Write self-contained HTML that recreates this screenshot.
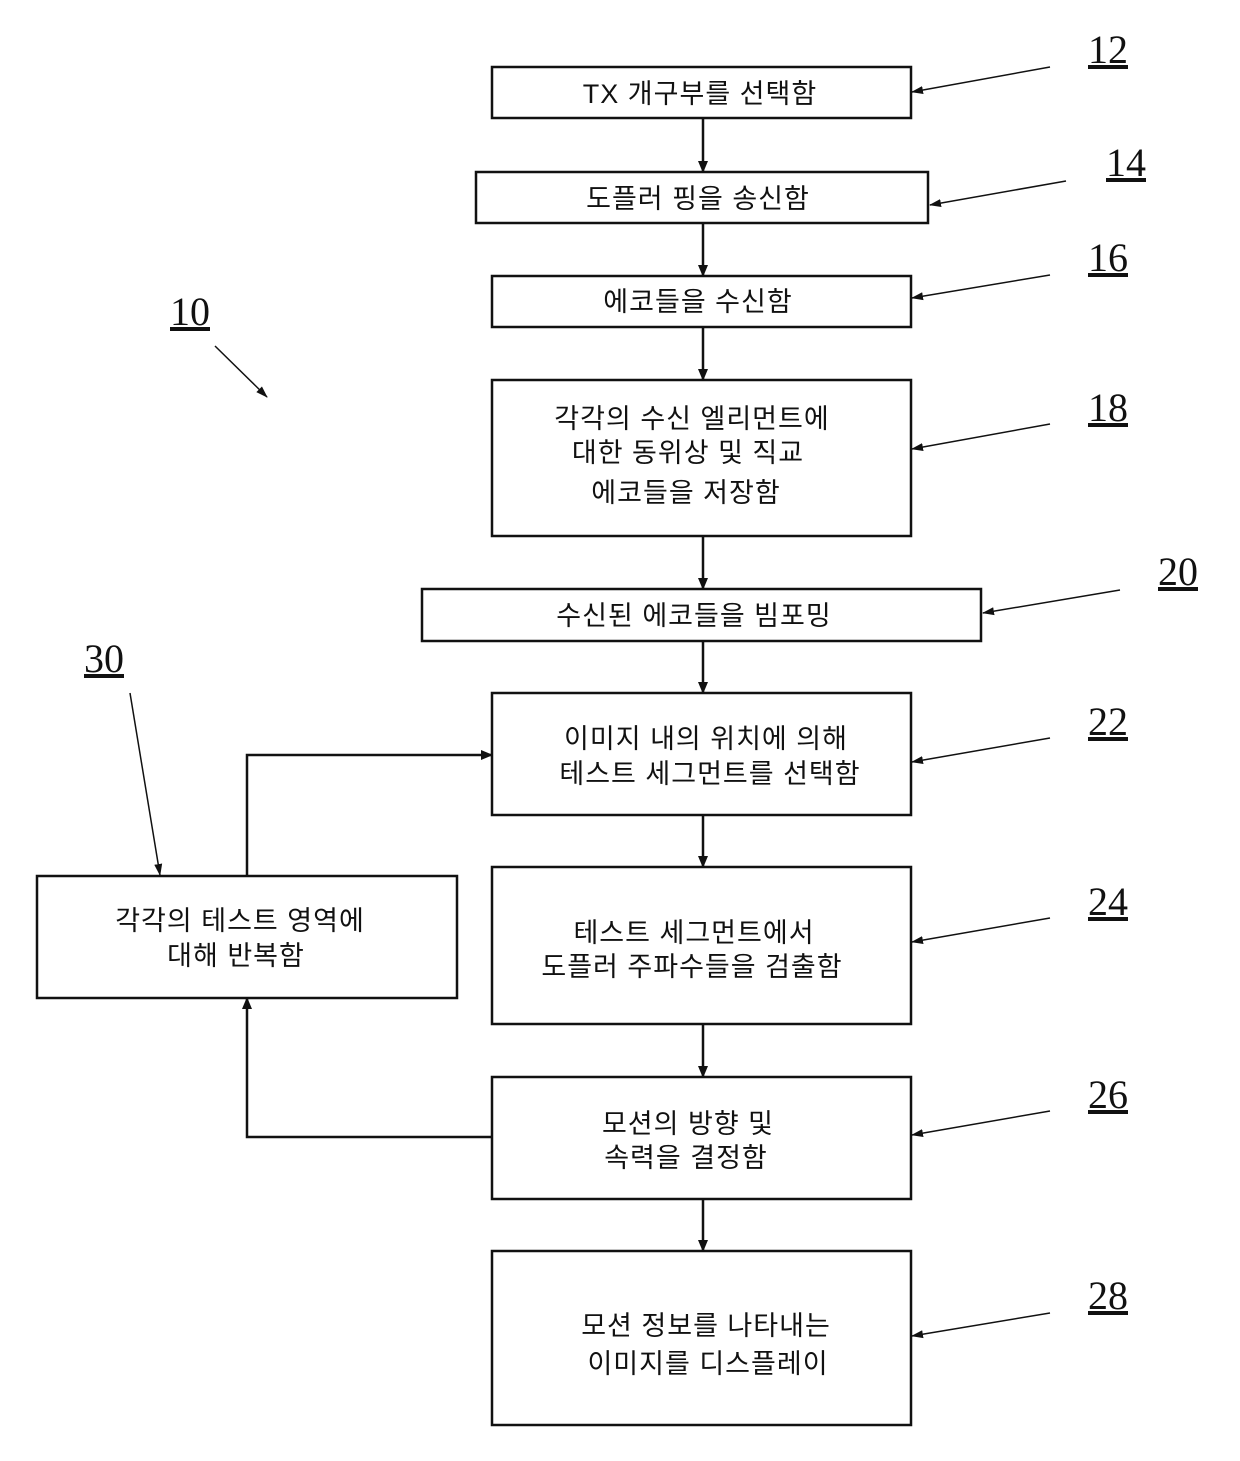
<!DOCTYPE html>
<html><head><meta charset="utf-8"><style>
html,body{margin:0;padding:0;background:#fff;}
svg{display:block;}
.t{font-family:"Liberation Sans","Noto Sans CJK KR","NanumGothic",sans-serif;font-size:27px;fill:#111;text-anchor:middle;letter-spacing:1px;}
.n{font-family:"Liberation Serif",serif;font-size:40px;fill:#111;text-anchor:middle;text-decoration:underline;}
</style></head><body>
<svg width="1240" height="1461" viewBox="0 0 1240 1461" xmlns="http://www.w3.org/2000/svg">
<defs><marker id="a" markerWidth="12" markerHeight="10" refX="11" refY="5" orient="auto" markerUnits="userSpaceOnUse"><path d="M0,0 L12,5 L0,10 z" fill="#111"/></marker>
<marker id="s" markerWidth="12" markerHeight="10" refX="11" refY="5" orient="auto" markerUnits="userSpaceOnUse"><path d="M0,1 L12,5 L0,9 z" fill="#111"/></marker></defs>
<g fill="none" stroke="#111" stroke-width="2.5">
<rect x="492" y="67" width="419" height="51"/>
<rect x="476" y="172" width="452" height="51"/>
<rect x="492" y="276" width="419" height="51"/>
<rect x="492" y="380" width="419" height="156"/>
<rect x="422" y="589" width="559" height="52"/>
<rect x="492" y="693" width="419" height="122"/>
<rect x="492" y="867" width="419" height="157"/>
<rect x="492" y="1077" width="419" height="122"/>
<rect x="492" y="1251" width="419" height="174"/>
<rect x="37" y="876" width="420" height="122"/>
</g>
<g stroke="#111" stroke-width="2.5" fill="none" marker-end="url(#a)">
<line x1="703" y1="118" x2="703" y2="172"/>
<line x1="703" y1="223" x2="703" y2="276"/>
<line x1="703" y1="327" x2="703" y2="380"/>
<line x1="703" y1="536" x2="703" y2="589"/>
<line x1="703" y1="641" x2="703" y2="693"/>
<line x1="703" y1="815" x2="703" y2="867"/>
<line x1="703" y1="1024" x2="703" y2="1077"/>
<line x1="703" y1="1199" x2="703" y2="1251"/>
<polyline points="492,1137 247,1137 247,998"/>
<polyline points="247,876 247,755 492,755"/>
</g>
<g stroke="#111" stroke-width="1.5" fill="none" marker-end="url(#s)">
<line x1="1050" y1="67" x2="912" y2="92"/>
<line x1="1066" y1="181" x2="930" y2="205"/>
<line x1="1050" y1="275" x2="912" y2="298"/>
<line x1="1050" y1="424" x2="912" y2="449"/>
<line x1="1120" y1="590" x2="983" y2="613"/>
<line x1="1050" y1="738" x2="912" y2="762"/>
<line x1="1050" y1="918" x2="912" y2="942"/>
<line x1="1050" y1="1111" x2="912" y2="1135"/>
<line x1="1050" y1="1313" x2="912" y2="1336"/>
<line x1="130" y1="693" x2="160" y2="875"/>
<line x1="215" y1="346" x2="267" y2="397"/>
</g>
<g class="t">
<text x="700" y="103">TX 개구부를 선택함</text>
<text x="698" y="208">도플러 핑을 송신함</text>
<text x="698" y="311">에코들을 수신함</text>
<text x="692" y="428">각각의 수신 엘리먼트에</text>
<text x="688" y="462">대한 동위상 및 직교</text>
<text x="686" y="502">에코들을 저장함</text>
<text x="694" y="625">수신된 에코들을 빔포밍</text>
<text x="706" y="748">이미지 내의 위치에 의해</text>
<text x="710" y="783">테스트 세그먼트를 선택함</text>
<text x="694" y="942">테스트 세그먼트에서</text>
<text x="692" y="976">도플러 주파수들을 검출함</text>
<text x="688" y="1133">모션의 방향 및</text>
<text x="686" y="1167">속력을 결정함</text>
<text x="706" y="1335">모션 정보를 나타내는</text>
<text x="708" y="1373">이미지를 디스플레이</text>
<text x="240" y="930">각각의 테스트 영역에</text>
<text x="236" y="965">대해 반복함</text>
</g>
<g class="n">
<text x="1108" y="63">12</text>
<text x="1126" y="176">14</text>
<text x="1108" y="271">16</text>
<text x="1108" y="421">18</text>
<text x="1178" y="585">20</text>
<text x="1108" y="735">22</text>
<text x="1108" y="915">24</text>
<text x="1108" y="1108">26</text>
<text x="1108" y="1309">28</text>
<text x="104" y="672">30</text>
<text x="190" y="325">10</text>
</g>
</svg>
</body></html>
